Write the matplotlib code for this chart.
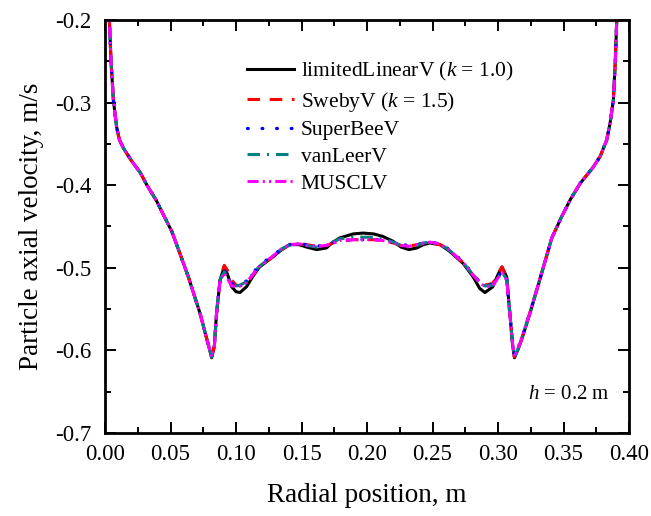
import matplotlib
matplotlib.use("Agg")
import matplotlib.pyplot as plt
from matplotlib.ticker import MultipleLocator, FormatStrFormatter

plt.rcParams['font.family'] = ['Liberation Serif', 'DejaVu Serif']
plt.rcParams['mathtext.fontset'] = 'custom'
plt.rcParams['mathtext.rm'] = 'Liberation Serif'
plt.rcParams['mathtext.it'] = 'Liberation Serif:italic'
plt.rcParams['lines.scale_dashes'] = False

# radial position, m
r = [0.0025, 0.0033, 0.0046, 0.0064, 0.0089, 0.0110, 0.0140, 0.0200, 0.0270, 0.0320,
     0.0390, 0.0440, 0.0510, 0.0570, 0.0636, 0.0725, 0.0790, 0.0814, 0.0835, 0.0850,
     0.0878, 0.0910, 0.0935, 0.0967, 0.1000, 0.1030, 0.1080, 0.1130, 0.1180, 0.1280,
     0.1350, 0.1410, 0.1480, 0.1540, 0.1616, 0.1690, 0.1740, 0.1790, 0.1895, 0.1970,
     0.2050, 0.2120, 0.2200, 0.2260, 0.2320, 0.2380, 0.2430, 0.2480, 0.2557, 0.2630,
     0.2735, 0.2810, 0.2860, 0.2900, 0.2960, 0.3000, 0.3030, 0.3066, 0.3090, 0.3110,
     0.3125, 0.3150, 0.3180, 0.3244, 0.3330, 0.3410, 0.3486, 0.3550, 0.3626, 0.3727,
     0.3780, 0.3830, 0.3855, 0.3880, 0.3895, 0.3906, 0.3912]

# particle axial velocity, m/s
v_limited = [-0.170, -0.200, -0.250, -0.297, -0.330, -0.345, -0.355, -0.370, -0.385, -0.400,
             -0.418, -0.434, -0.456, -0.482, -0.511, -0.555, -0.594, -0.609, -0.595, -0.558,
             -0.515, -0.499, -0.508, -0.523, -0.529, -0.530, -0.523, -0.510, -0.499, -0.487,
             -0.478, -0.472, -0.472, -0.475, -0.478, -0.476, -0.469, -0.464, -0.459, -0.458,
             -0.459, -0.462, -0.468, -0.475, -0.478, -0.476, -0.472, -0.470, -0.472, -0.480,
             -0.495, -0.511, -0.525, -0.530, -0.523, -0.508, -0.499, -0.511, -0.555, -0.592,
             -0.609, -0.600, -0.587, -0.555, -0.508, -0.464, -0.438, -0.418, -0.398, -0.378,
             -0.365, -0.345, -0.325, -0.297, -0.250, -0.200, -0.170]

v_sweby = [-0.170, -0.200, -0.250, -0.297, -0.330, -0.345, -0.355, -0.370, -0.385, -0.400,
           -0.418, -0.434, -0.456, -0.482, -0.511, -0.555, -0.594, -0.608, -0.594, -0.557,
           -0.514, -0.497, -0.503, -0.515, -0.521, -0.522, -0.519, -0.508, -0.498, -0.487,
           -0.478, -0.472, -0.471, -0.472, -0.474, -0.473, -0.470, -0.468, -0.466, -0.466,
           -0.466, -0.467, -0.470, -0.473, -0.474, -0.472, -0.471, -0.470, -0.472, -0.479,
           -0.494, -0.509, -0.517, -0.521, -0.519, -0.507, -0.499, -0.512, -0.555, -0.591,
           -0.608, -0.599, -0.586, -0.554, -0.508, -0.464, -0.438, -0.418, -0.398, -0.378,
           -0.365, -0.345, -0.325, -0.297, -0.250, -0.200, -0.170]

v_superbee = [-0.170, -0.200, -0.250, -0.297, -0.330, -0.345, -0.355, -0.370, -0.385, -0.400,
              -0.418, -0.434, -0.456, -0.482, -0.511, -0.555, -0.594, -0.607, -0.593, -0.556,
              -0.515, -0.503, -0.510, -0.519, -0.521, -0.520, -0.516, -0.506, -0.497, -0.485,
              -0.477, -0.472, -0.471, -0.472, -0.474, -0.472, -0.469, -0.467, -0.466, -0.466,
              -0.466, -0.466, -0.469, -0.472, -0.473, -0.472, -0.470, -0.469, -0.471, -0.478,
              -0.493, -0.508, -0.517, -0.521, -0.520, -0.511, -0.504, -0.513, -0.555, -0.590,
              -0.607, -0.598, -0.585, -0.554, -0.508, -0.464, -0.438, -0.418, -0.398, -0.378,
              -0.365, -0.345, -0.325, -0.297, -0.250, -0.200, -0.170]

v_vanleer = [-0.170, -0.200, -0.250, -0.297, -0.330, -0.345, -0.355, -0.370, -0.385, -0.400,
             -0.418, -0.434, -0.456, -0.482, -0.511, -0.555, -0.594, -0.608, -0.594, -0.557,
             -0.515, -0.505, -0.511, -0.520, -0.522, -0.521, -0.517, -0.507, -0.498, -0.486,
             -0.477, -0.472, -0.471, -0.473, -0.475, -0.473, -0.469, -0.465, -0.463, -0.463,
             -0.463, -0.465, -0.469, -0.473, -0.475, -0.473, -0.470, -0.469, -0.471, -0.479,
             -0.494, -0.509, -0.518, -0.522, -0.521, -0.512, -0.505, -0.514, -0.555, -0.591,
             -0.608, -0.599, -0.586, -0.554, -0.508, -0.464, -0.438, -0.418, -0.398, -0.378,
             -0.365, -0.345, -0.325, -0.297, -0.250, -0.200, -0.170]

v_muscl = [-0.170, -0.200, -0.250, -0.297, -0.330, -0.345, -0.355, -0.370, -0.385, -0.400,
           -0.418, -0.434, -0.456, -0.482, -0.511, -0.555, -0.594, -0.608, -0.594, -0.557,
           -0.516, -0.506, -0.513, -0.522, -0.523, -0.522, -0.518, -0.508, -0.498, -0.486,
           -0.477, -0.472, -0.471, -0.473, -0.474, -0.473, -0.470, -0.467, -0.466, -0.466,
           -0.466, -0.467, -0.470, -0.473, -0.474, -0.472, -0.470, -0.469, -0.471, -0.479,
           -0.494, -0.509, -0.518, -0.523, -0.522, -0.512, -0.506, -0.515, -0.555, -0.591,
           -0.608, -0.599, -0.586, -0.554, -0.508, -0.464, -0.438, -0.418, -0.398, -0.378,
           -0.365, -0.345, -0.325, -0.297, -0.250, -0.200, -0.170]

labels = ['limitedLinearV ($k$ = 1.0)', 'SwebyV ($k$ = 1.5)', 'SuperBeeV', 'vanLeerV', 'MUSCLV']

fig = plt.figure(figsize=(6.51, 5.16), dpi=100)
ax = fig.add_axes([0.1613, 0.1609, 0.805, 0.8004])

ax.plot(r, v_limited, color='black', lw=2.2, ls='-', label=labels[0])
ax.plot(r, v_sweby, color='red', lw=2.2, dashes=(9, 7), label=labels[1])
ax.plot(r, v_superbee, color='blue', lw=2.4, dashes=(0.5, 10), dash_capstyle='round', label=labels[2])
ax.plot(r, v_vanleer, color='teal', lw=2.2, dashes=(9, 5, 1.5, 5), label=labels[3])
ax.plot(r, v_muscl, color='magenta', lw=2.2, dashes=(8, 3, 1.5, 3, 1.5, 3), label=labels[4])

ax.set_xlim(0.0, 0.40)
ax.set_ylim(-0.7, -0.2)
ax.xaxis.set_major_locator(MultipleLocator(0.05))
ax.xaxis.set_minor_locator(MultipleLocator(0.025))
ax.yaxis.set_major_locator(MultipleLocator(0.1))
ax.yaxis.set_minor_locator(MultipleLocator(0.05))
ax.xaxis.set_major_formatter(FormatStrFormatter('%.2f'))
ax.yaxis.set_major_formatter(FormatStrFormatter('%.1f'))

ax.tick_params(which='both', direction='in', top=True, right=True, width=1.4)
ax.tick_params(which='major', length=8, labelsize=16.5)
ax.tick_params(which='minor', length=4.5)
ax.tick_params(axis='x', which='major', pad=8)
ax.tick_params(axis='y', which='major', pad=10)
for sp in ax.spines.values():
    sp.set_linewidth(2.0)

ax.set_xlabel('Radial position, m', fontsize=19.5)
ax.set_ylabel('Particle axial velocity, m/s', fontsize=19.5)
ax.xaxis.set_label_coords(0.5, -0.12)
ax.yaxis.set_label_coords(-0.117, 0.5)

ax.text(0.964, 0.092, '$h$ = 0.2 m', transform=ax.transAxes, ha='right', va='center', fontsize=15)

ax.legend(loc='upper left', bbox_to_anchor=(0.271, 0.902), frameon=False, fontsize=15.5,
          handlelength=2.2, handletextpad=0.3, labelspacing=0.3, borderpad=0, borderaxespad=0)

plt.savefig('out.png', dpi=100)
